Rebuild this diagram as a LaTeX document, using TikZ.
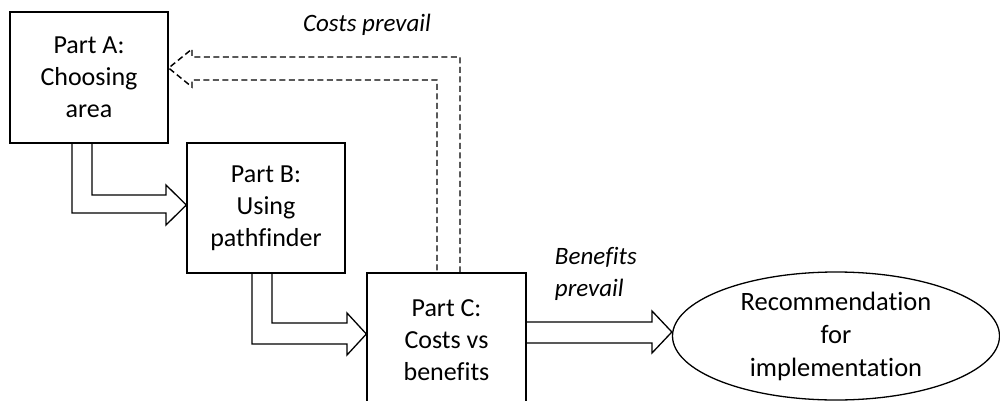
\documentclass[tikz,border=0pt]{standalone}
\usepackage{fontspec}
\setmainfont{Carlito}[Ligatures=NoCommon]
\usetikzlibrary{shapes.geometric,calc}
\begin{document}
\begin{tikzpicture}[x=1pt,y=-1pt,
  line width=1.3pt,
  stage/.style={draw, rectangle, inner sep=0pt, align=center,
    font=\fontsize{26}{32}\selectfont},
  goal/.style={draw, ellipse, inner sep=0pt, align=center,
    font=\fontsize{26.5}{33}\selectfont},
  label/.style={font=\fontsize{25}{32}\selectfont\itshape},
  blockarrow/.style={draw, line join=miter},
  loopback/.style={draw, dash pattern=on 6pt off 3.5pt, line width=1.45pt}]
\useasboundingbox (0,0) rectangle (1000,401);
\clip (0,0) rectangle (1000,401);

% process stages
\node[stage, minimum width=158pt, minimum height=131pt] (A) at (89,77.5)
  {Part A:\\Choosing\\area};
\node[stage, minimum width=158pt, minimum height=130pt] (B) at (266,208)
  {Part B:\\Using\\pathfinder};
\node[stage, minimum width=159pt, minimum height=134pt] (C) at (446.5,340)
  {Part C:\\Costs vs\\benefits};
\node[goal, minimum width=327pt, minimum height=128pt] (E) at (836,336)
  {Recommendation\\for\\implementation};

% A -> B block arrow
\path[blockarrow] (A.south -| 72,0) -- (72,213) -- (166,213) -- (166,225)
  -- (B.west |- 0,205) -- (166,185) -- (166,195) -- (92,195) -- (A.south -| 92,0);

% B -> C block arrow
\path[blockarrow] (B.south -| 252,0) -- (252,344) -- (347,344) -- (347,355)
  -- (C.west |- 0,334) -- (347,313) -- (347,323) -- (272,323) -- (B.south -| 272,0);

% C -> recommendation block arrow
\path[blockarrow] (C.east |- 0,322) -- (652,322) -- (652,311)
  -- (E.west |- 0,332) -- (652,353) -- (652,343) -- (C.east |- 0,343);

% dashed loop back from C to A
\path[loopback] (C.north -| 460,0) -- (460,57) -- (192,57) -- (192,49)
  -- (A.east |- 0,68) -- (192,87) -- (192,80) -- (437,80) -- (C.north -| 437,0);

% outcome labels
\node[label] (costs) at (367,25) {Costs prevail};
\node[label, anchor=west, align=left] (benefits) at (551,274) {Benefits\\prevail};
\end{tikzpicture}
\end{document}
